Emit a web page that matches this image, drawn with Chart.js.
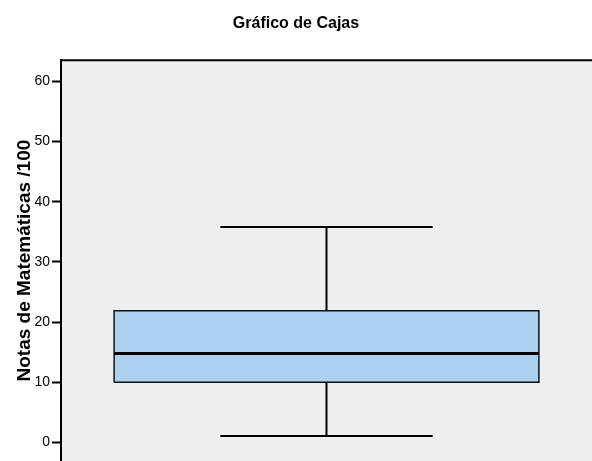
<!DOCTYPE html>
<html>
<head>
<meta charset="utf-8">
<script src="https://cdn.jsdelivr.net/npm/chart.js@4"></script>
<style>
  html, body { margin: 0; padding: 0; background: #fff; overflow: hidden; }
</style>
</head>
<body>
<canvas id="myChart" width="592" height="461"></canvas>
<script>
// Box plot values
const categories = ['Notas de Matemáticas'];
const minimum = [1.1];
const q1 = [10.0];
const median = [14.8];
const q3 = [21.9];
const maximum = [35.8];
const yTicks = [0, 10, 20, 30, 40, 50, 60];

// horizontal placement of the box on a 0..1 x axis
const boxLeft = 0.1, boxRight = 0.9, capLeft = 0.3, capRight = 0.7, mid = 0.5;

const labelFont = "'Liberation Sans', Arial, sans-serif";

// grey plot area and top border
const plotFrame = {
    id: 'plotFrame',
    beforeDraw(chart) {
        const { ctx, chartArea } = chart;
        ctx.save();
        ctx.fillStyle = '#efefef';
        ctx.fillRect(chartArea.left, chartArea.top, chartArea.right - chartArea.left, chartArea.bottom - chartArea.top);
        ctx.restore();
    },
    afterDraw(chart) {
        const { ctx, chartArea } = chart;
        ctx.save();
        ctx.strokeStyle = '#000';
        ctx.lineWidth = 2;
        ctx.beginPath();
        ctx.moveTo(chartArea.left - 1, chartArea.top);
        ctx.lineTo(chartArea.right, chartArea.top);
        ctx.stroke();
        ctx.restore();
    }
};

function seg(points, width) {
    return {
        type: 'line',
        data: points,
        borderColor: '#000',
        borderWidth: width,
        pointRadius: 0,
        fill: false,
        order: 1
    };
}

const i = 0;
const ctx = document.getElementById('myChart').getContext('2d');
const myChart = new Chart(ctx, {
    type: 'scatter',
    data: {
        datasets: [
            seg([{ x: boxLeft, y: median[i] }, { x: boxRight, y: median[i] }], 3),
            seg([{ x: mid, y: q3[i] }, { x: mid, y: maximum[i] }], 2),
            seg([{ x: capLeft, y: maximum[i] }, { x: capRight, y: maximum[i] }], 2),
            seg([{ x: mid, y: q1[i] }, { x: mid, y: minimum[i] }], 2),
            seg([{ x: capLeft, y: minimum[i] }, { x: capRight, y: minimum[i] }], 2),
            {
                type: 'line',
                label: categories[i],
                data: [
                    { x: boxLeft, y: q1[i] }, { x: boxRight, y: q1[i] },
                    { x: boxRight, y: q3[i] }, { x: boxLeft, y: q3[i] },
                    { x: boxLeft, y: q1[i] }
                ],
                borderColor: '#111',
                borderWidth: 1.5,
                backgroundColor: '#acd0ef',
                fill: 'shape',
                pointRadius: 0,
                order: 2
            }
        ]
    },
    options: {
        responsive: false,
        animation: false,
        layout: { padding: 0 },
        plugins: {
            legend: { display: false },
            tooltip: { enabled: false },
            title: {
                display: true,
                text: 'Gráfico de Cajas',
                color: '#000',
                font: { family: labelFont, size: 16, weight: 'bold' },
                padding: { top: 14, bottom: 27 }
            }
        },
        scales: {
            x: {
                type: 'linear',
                min: 0,
                max: 1,
                display: false
            },
            y: {
                min: -3.07,
                max: 63.49,
                afterFit(scale) {
                    scale.width = 61;
                    scale.paddingTop = 0;
                    scale.paddingBottom = 0;
                },
                afterBuildTicks(scale) { scale.ticks = yTicks.map(v => ({ value: v })); },
                grid: {
                    drawOnChartArea: false,
                    drawTicks: true,
                    tickLength: 9,
                    tickWidth: 2,
                    tickColor: '#000'
                },
                border: { display: true, color: '#000', width: 2 },
                ticks: {
                    color: '#000',
                    padding: 2,
                    font: { family: labelFont, size: 14 }
                },
                title: {
                    display: true,
                    text: 'Notas de Matemáticas /100',
                    color: '#000',
                    font: { family: labelFont, size: 19, weight: 'bold' },
                    padding: { top: 13, bottom: 0 }
                }
            }
        }
    },
    plugins: [plotFrame]
});
</script>
</body>
</html>
